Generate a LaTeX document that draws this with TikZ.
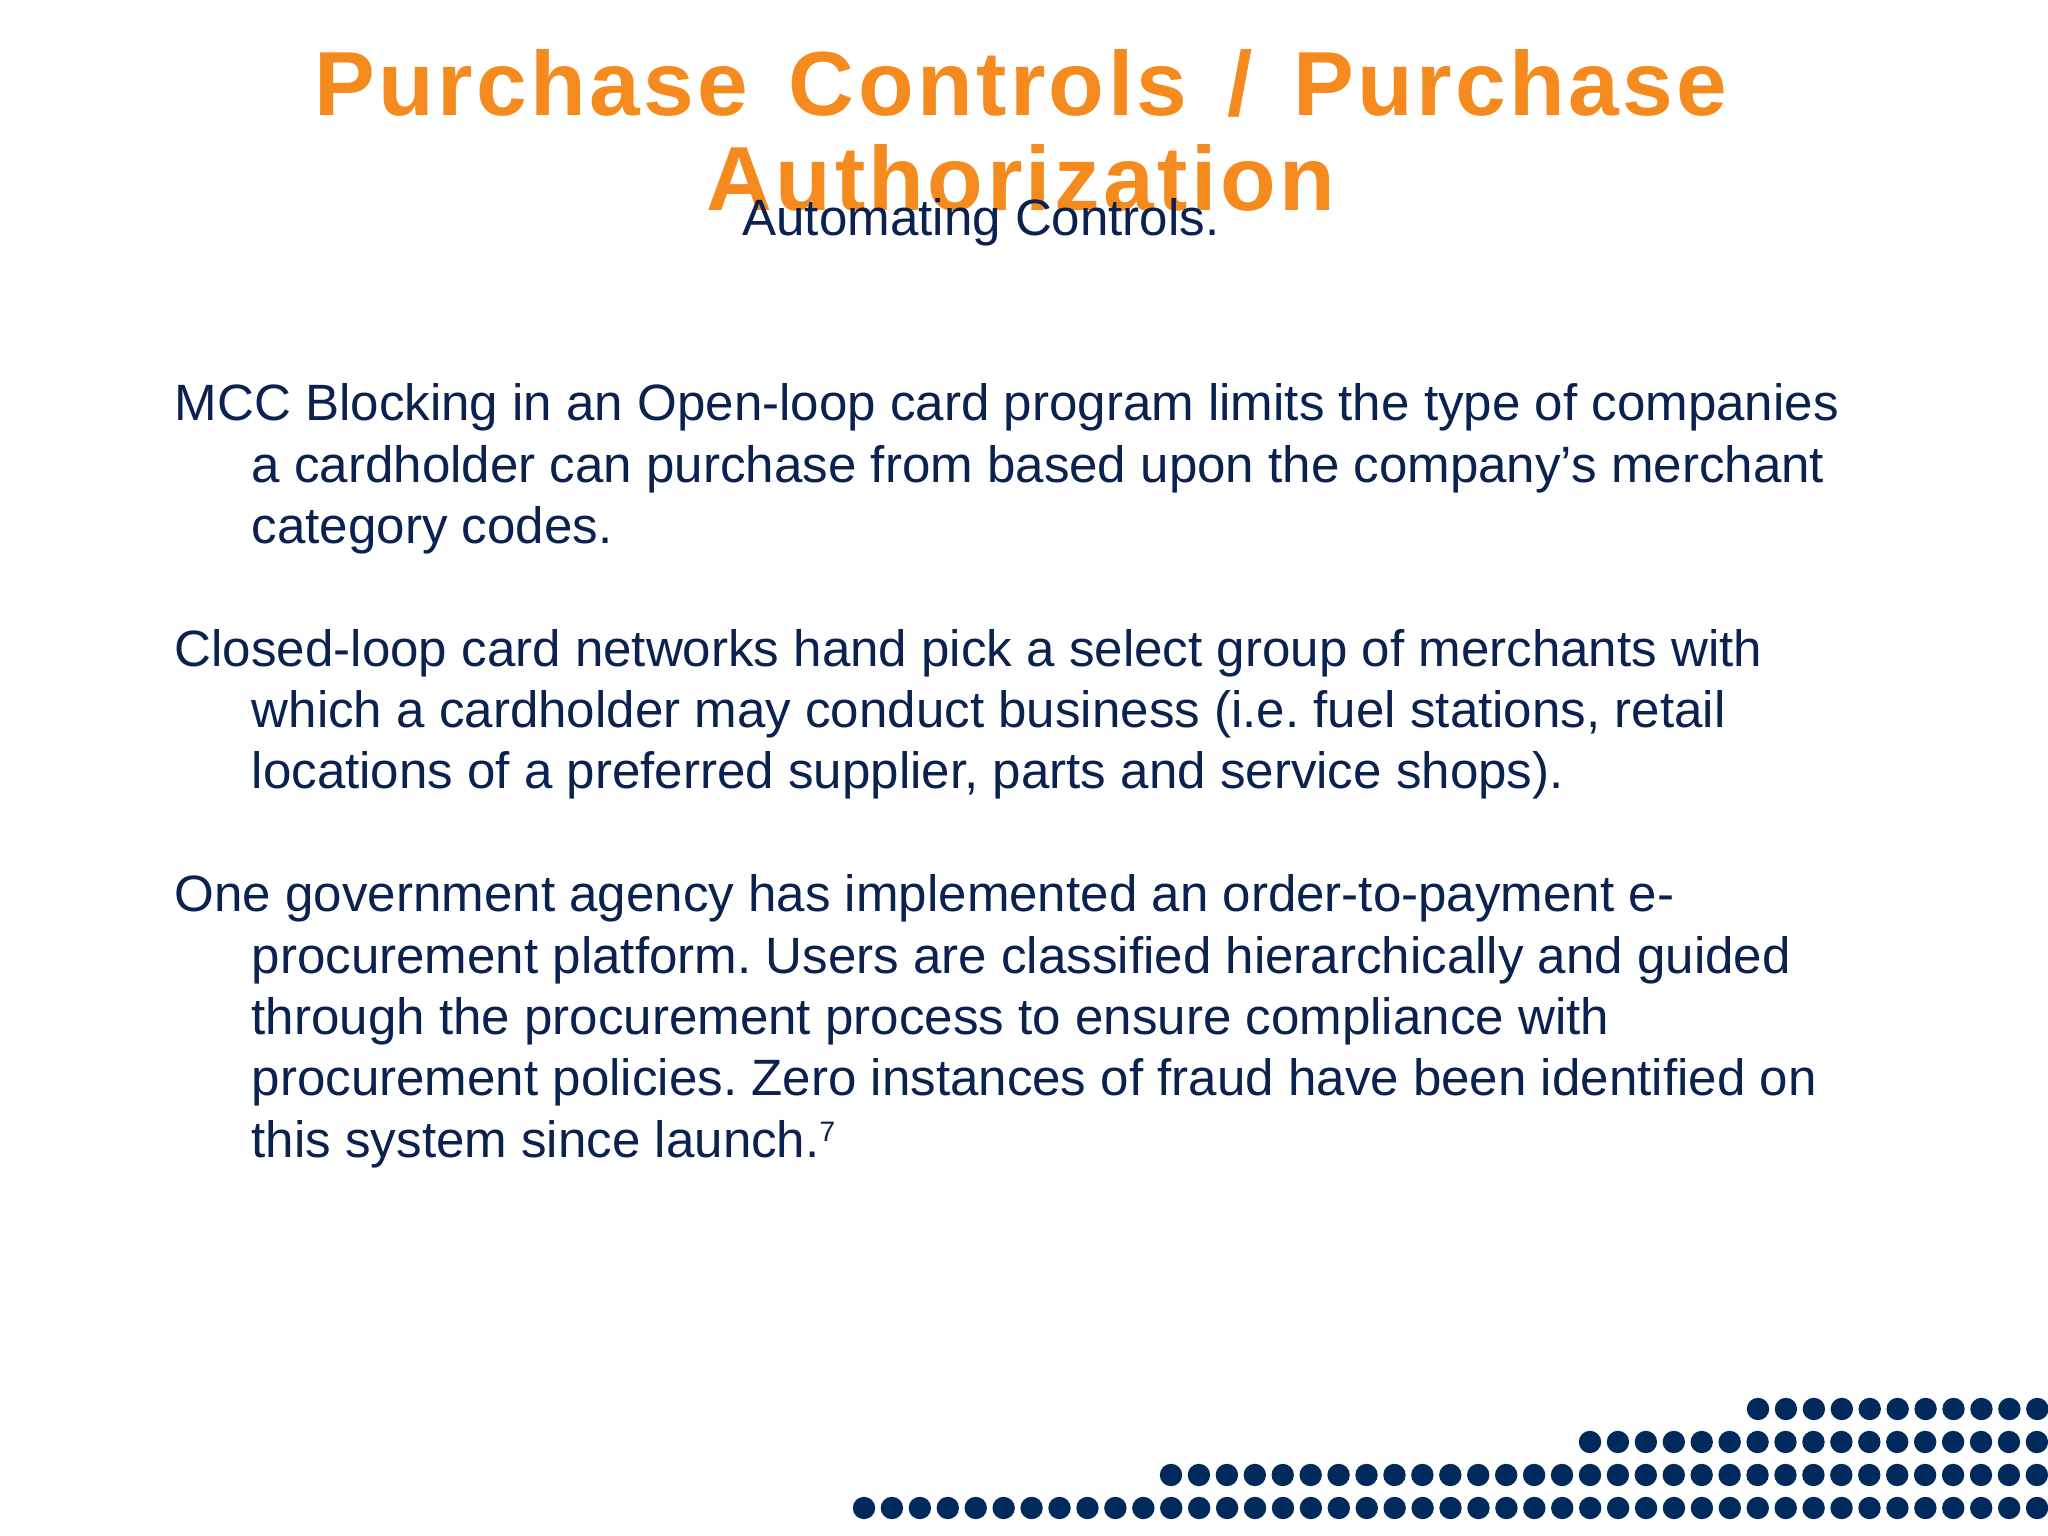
\documentclass[tikz,border=0pt]{standalone}
\usepackage{fontspec}
\usepackage{xcolor}
\usetikzlibrary{positioning}
\setmainfont{Liberation Sans}
\newfontfamily\titlefont[LetterSpace=3.8,WordSpace=1.4]{Liberation Sans}
\definecolor{slideorange}{HTML}{F58A1F}
\definecolor{slidenavy}{HTML}{0B2250}
\definecolor{dotnavy}{HTML}{002A5C}
\newcommand{\ind}{\hspace*{21.9pt}}

\begin{document}
\frenchspacing
\begin{tikzpicture}[x=0.01cm,y=0.01cm]
    \tikzstyle{heading} = [inner sep=0,align=center,text=slideorange,font=\titlefont\bfseries\fontsize{25.9}{24}\selectfont]
    \tikzstyle{subheading} = [inner sep=0,text=slidenavy,font=\fontsize{14.53}{17.45}\selectfont]
    \tikzstyle{para} = [inner sep=0,align=left,text=slidenavy,font=\fontsize{14.53}{17.45}\selectfont]
    \useasboundingbox (0,0) rectangle (2048,1536);
    \fill[white] (0,0) rectangle (2048,1536);
    \node[heading,anchor=north] (title) at (1021,1487) {\strut Purchase Controls / Purchase\\Authorization\strut};
    \node[subheading,anchor=base] (subtitle) at (981,1300) {Automating Controls.};
    \node[para,anchor=north west] (mcc) at (174,1159) {\strut MCC Blocking in an Open-loop card program limits the type of companies\\
        \ind a cardholder can purchase from based upon the company’s merchant\\
        \ind category codes.\strut};
    \node[para] (closed) [below = 6mm of mcc.south west,anchor=north west] {\strut Closed-loop card networks hand pick a select group of merchants with\\
        \ind which a cardholder may conduct business (i.e. fuel stations, retail\\
        \ind locations of a preferred supplier, parts and service shops).\strut};
    \node[para] (agency) [below = 6mm of closed.south west,anchor=north west] {\strut One government agency has implemented an order-to-payment e-\\
        \ind procurement platform. Users are classified hierarchically and guided\\
        \ind through the procurement process to ensure compliance with\\
        \ind procurement policies. Zero instances of fraud have been identified on\\
        \ind this system since launch.\raisebox{4.5pt}{\fontsize{8}{8}\selectfont 7}\strut};
    % dot rows along the bottom edge
    \foreach \rowy/\first/\last in {127/1758/10,94/1590/16,61/1171/31,28/864/42}
        \foreach \i in {0,...,\last}
            \fill[dotnavy] ({\first+\i*27.93},\rowy) circle (11.2);
\end{tikzpicture}
\end{document}
